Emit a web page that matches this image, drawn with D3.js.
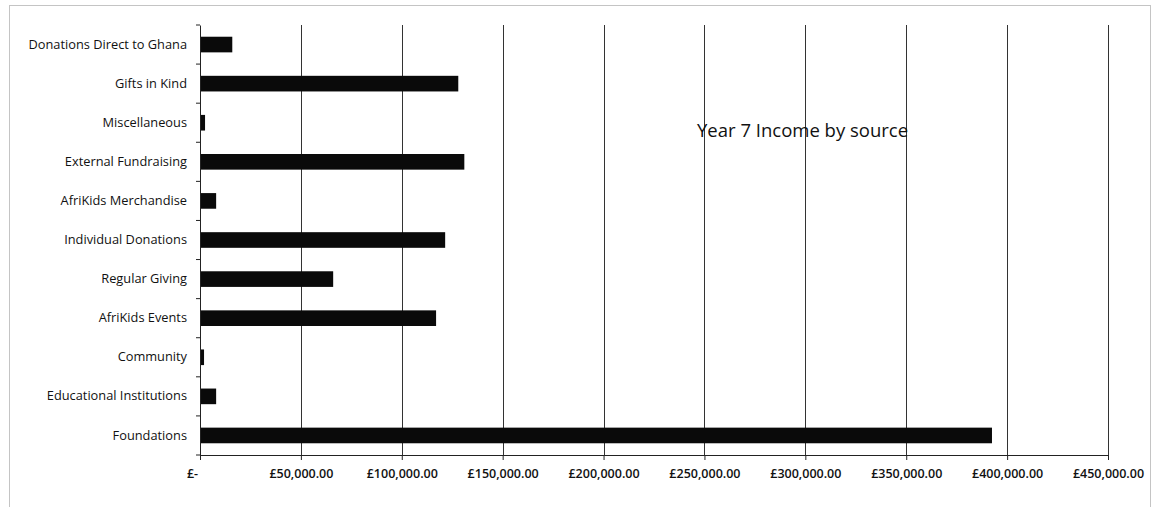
<!DOCTYPE html>
<html>
<head>
<meta charset="utf-8">
<script src="https://cdn.jsdelivr.net/npm/d3@7"></script>
<style>
  body { margin: 0; background: #fff; }
  text { font-family: "Open Sans", "Liberation Sans", sans-serif; fill: #111; }
</style>
</head>
<body>
<div id="chart"></div>
<script>
// Categories listed top to bottom, as in the picture
const categories = [
  "Donations Direct to Ghana", "Gifts in Kind", "Miscellaneous", "External Fundraising",
  "AfriKids Merchandise", "Individual Donations", "Regular Giving", "AfriKids Events",
  "Community", "Educational Institutions", "Foundations"
];
const income = [16000, 128000, 2500, 131000, 8000, 121500, 66000, 117000, 2000, 8000, 392500];
const xTicks = [0, 50000, 100000, 150000, 200000, 250000, 300000, 350000, 400000, 450000];
const chartTitle = "Year 7 Income by source";

const width = 1160, height = 507;
const margin = {top: 25, right: 52, bottom: 52, left: 200};

const svg = d3.select("#chart").append("svg")
    .attr("width", width)
    .attr("height", height);

// outer chart border (dotted, like the scan)
svg.append("rect")
    .attr("x", 9.5).attr("y", 5.5)
    .attr("width", 1141).attr("height", 510)
    .attr("fill", "none")
    .attr("stroke", "#888")
    .attr("stroke-dasharray", "1,1");

const x = d3.scaleLinear().domain([0, 450000]).range([margin.left, width - margin.right]);
const y = d3.scaleBand().domain(categories).range([margin.top, height - margin.bottom]).paddingInner(0.6).paddingOuter(0.3);

// gridlines
svg.append("g")
    .selectAll("line")
    .data(xTicks.slice(1))
    .enter().append("line")
    .attr("x1", d => Math.round(x(d)) + 0.5)
    .attr("x2", d => Math.round(x(d)) + 0.5)
    .attr("y1", margin.top)
    .attr("y2", height - margin.bottom)
    .attr("stroke", "#333")
    .attr("stroke-width", 1);

// bars
svg.append("g")
    .selectAll("rect")
    .data(categories)
    .enter().append("rect")
    .attr("x", x(0))
    .attr("y", d => y(d))
    .attr("width", (d, i) => x(income[i]) - x(0))
    .attr("height", y.bandwidth())
    .attr("fill", "#0a0a0a");

// x axis
const fmt = d => d === 0 ? "£-" : "£" + d3.format(",.2f")(d);
const xAxis = svg.append("g")
    .attr("transform", `translate(0,${height - margin.bottom})`)
    .call(d3.axisBottom(x).tickValues(xTicks).tickFormat(fmt).tickSize(5).tickPadding(9));
xAxis.select(".domain").attr("stroke", "#222");
xAxis.selectAll(".tick line").attr("stroke", "#222");
xAxis.selectAll("text").attr("font-size", 12.5).attr("fill", "#111").attr("font-weight", 600);
xAxis.selectAll(".tick").filter(d => d === 0).select("text").attr("dx", -8);

// y axis with ticks between categories
const yAxis = svg.append("g")
    .attr("transform", `translate(${margin.left},0)`)
    .call(d3.axisLeft(y).tickSize(0).tickPadding(13));
yAxis.select(".domain").attr("stroke", "#222");
yAxis.selectAll("text").attr("font-size", 12.8).attr("fill", "#111");

const bounds = d3.range(categories.length + 1).map(i => margin.top + i * (height - margin.bottom - margin.top) / categories.length);
svg.append("g")
    .selectAll("line")
    .data(bounds)
    .enter().append("line")
    .attr("x1", margin.left - 4).attr("x2", margin.left)
    .attr("y1", d => d).attr("y2", d => d)
    .attr("stroke", "#222");

// title inside the plot
svg.append("text")
    .attr("x", 697)
    .attr("y", 137)
    .attr("font-size", 18.5)
    .text(chartTitle);
</script>
</body>
</html>
